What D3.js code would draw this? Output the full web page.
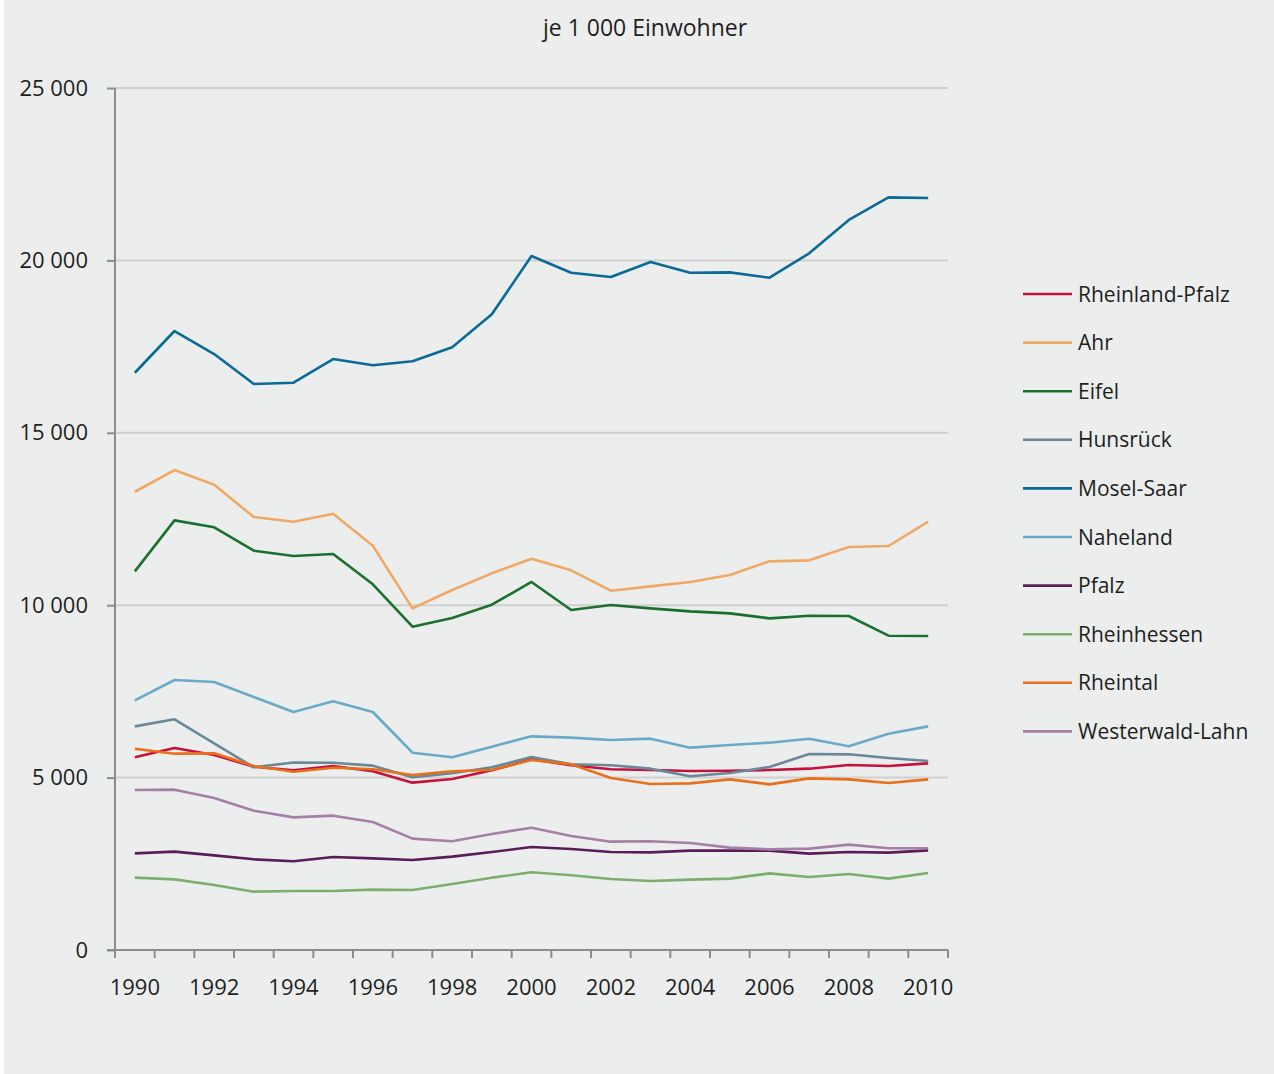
<!DOCTYPE html>
<html><head><meta charset="utf-8">
<script src="https://cdn.jsdelivr.net/npm/d3@7"></script>
<style>body{margin:0;background:#fff;}svg{display:block;font-family:"Open Sans","Noto Sans",sans-serif;}</style>
</head><body>
<svg id="c" width="1274" height="1074"></svg>
<script>
const years = d3.range(1990, 2011);
const yTicks = [0, 5000, 10000, 15000, 20000, 25000];
const xLabelYears = [1990,1992,1994,1996,1998,2000,2002,2004,2006,2008,2010];
const title = "je 1 000 Einwohner";

const seriesNames = ["Rheinland-Pfalz","Ahr","Eifel","Hunsrück","Mosel-Saar","Naheland","Pfalz","Rheinhessen","Rheintal","Westerwald-Lahn"];
const seriesColors = ["#c4123e","#f0a866","#1b6f2f","#6a8898","#0b6a98","#6aaac8","#5a1c58","#7cae6e","#e8701c","#a67fa6"];

const rheinlandPfalz = [5590,5860,5655,5317,5211,5336,5182,4853,4959,5211,5530,5356,5240,5220,5191,5200,5220,5259,5365,5336,5413];
const ahr            = [13290,13920,13495,12558,12422,12654,11726,9909,10441,10924,11349,11011,10421,10547,10673,10876,11272,11301,11688,11717,12422];
const eifel          = [10982,12461,12258,11581,11427,11485,10605,9377,9629,10015,10673,9861,10006,9909,9822,9764,9619,9696,9687,9116,9107];
const hunsrueck      = [6486,6690,5994,5298,5440,5430,5346,5008,5124,5298,5597,5385,5356,5259,5037,5133,5307,5684,5675,5568,5481];
const moselSaar      = [16742,17952,17285,16415,16453,17140,16957,17073,17479,18436,20127,19643,19518,19953,19643,19653,19498,20205,21172,21829,21810];
const naheland       = [7241,7831,7773,7338,6903,7212,6903,5723,5588,5897,6197,6158,6090,6129,5868,5945,6013,6129,5907,6274,6486];
const pfalz          = [2803,2852,2745,2630,2572,2697,2658,2610,2707,2842,2987,2929,2842,2832,2881,2881,2881,2794,2842,2823,2890];
const rheinhessen    = [2098,2049,1885,1692,1711,1711,1750,1740,1914,2098,2253,2166,2059,2001,2040,2069,2223,2117,2204,2069,2233];
const rheintal       = [5839,5694,5703,5336,5172,5288,5240,5075,5182,5220,5510,5385,4988,4814,4833,4949,4804,4978,4949,4843,4949];
const westerwald     = [4640,4650,4408,4041,3847,3896,3712,3229,3152,3364,3548,3306,3142,3152,3103,2968,2919,2939,3055,2949,2949];

const seriesValues = [rheinlandPfalz, ahr, eifel, hunsrueck, moselSaar, naheland, pfalz, rheinhessen, rheintal, westerwald];

const svg = d3.select("#c");
svg.append("rect").attr("x",4).attr("y",0).attr("width",1270).attr("height",1074).attr("fill","#eceeed");

const mLeft = 115, mRight = 948, mTop = 88, mBottom = 950;
const x = d3.scaleBand().domain(years).range([mLeft, mRight]);
const y = d3.scaleLinear().domain([0, 25000]).range([mBottom, mTop]);

const fmt = v => v === 0 ? "0" : d3.format(",")(v).replace(/,/g, " ");

// gridlines
svg.append("g").selectAll("line").data(yTicks.filter(d => d > 0)).join("line")
  .attr("x1", mLeft).attr("x2", mRight)
  .attr("y1", d => y(d)).attr("y2", d => y(d))
  .attr("stroke", "#cfcfcf").attr("stroke-width", 2);

// y axis
const yAxis = svg.append("g").attr("transform", `translate(${mLeft},0)`)
  .call(d3.axisLeft(y).tickValues(yTicks).tickSize(8).tickPadding(19).tickFormat(fmt));
yAxis.select(".domain").remove();
yAxis.selectAll(".tick line").attr("stroke", "#8c8c8c").attr("stroke-width", 2);
yAxis.selectAll("text").attr("font-size", 22).attr("fill", "#1e1e1e").attr("font-family", "Open Sans, Noto Sans, sans-serif");
svg.append("line").attr("x1", mLeft).attr("x2", mLeft).attr("y1", mTop).attr("y2", mBottom + 1)
  .attr("stroke", "#8c8c8c").attr("stroke-width", 2);

// x axis: ticks at band boundaries
const boundaries = years.map(d => x(d)).concat([mRight]);
svg.append("line").attr("x1", mLeft - 8).attr("x2", mRight).attr("y1", mBottom).attr("y2", mBottom)
  .attr("stroke", "#8c8c8c").attr("stroke-width", 2);
svg.append("g").selectAll("line").data(boundaries).join("line")
  .attr("x1", d => d).attr("x2", d => d).attr("y1", mBottom).attr("y2", mBottom + 8)
  .attr("stroke", "#8c8c8c").attr("stroke-width", 2);
svg.append("g").selectAll("text").data(xLabelYears).join("text")
  .attr("x", d => x(d) + x.bandwidth() / 2).attr("y", 995)
  .attr("text-anchor", "middle").attr("font-size", 22).attr("fill", "#1e1e1e")
  .text(d => d);

// lines
const line = d3.line().x((d, i) => x(years[i]) + x.bandwidth() / 2).y(d => y(d));
svg.append("g").selectAll("path").data(seriesValues).join("path")
  .attr("d", d => line(d)).attr("fill", "none")
  .attr("stroke", (d, i) => seriesColors[i]).attr("stroke-width", 2.6)
  .attr("stroke-linejoin", "round");

// title
svg.append("text").attr("x", 645).attr("y", 36).attr("text-anchor", "middle")
  .attr("font-size", 23).attr("fill", "#1e1e1e").text(title);

// legend
const lg = svg.append("g").selectAll("g").data(seriesNames).join("g")
  .attr("transform", (d, i) => `translate(1023,${294 + i * 48.6})`);
lg.append("line").attr("x1", 0).attr("x2", 49).attr("y1", 0).attr("y2", 0)
  .attr("stroke", (d, i) => seriesColors[i]).attr("stroke-width", 2.6);
lg.append("text").attr("x", 55).attr("y", 7.5).attr("font-size", 21).attr("fill", "#1e1e1e").text(d => d);
</script>
</body></html>
